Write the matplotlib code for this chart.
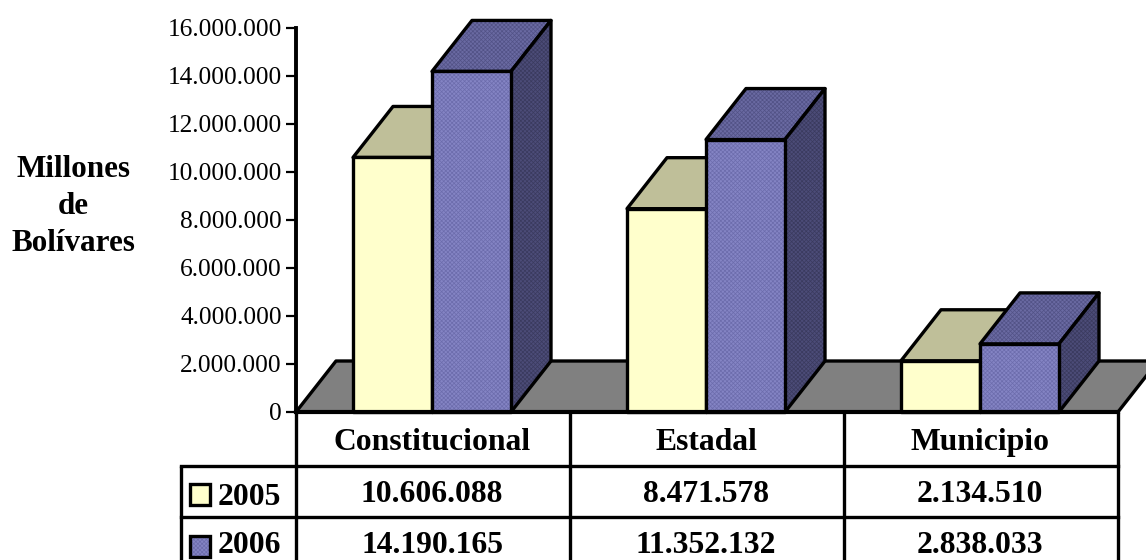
#!/usr/bin/env python3
"""3D looking bar chart with data table, Millones de Bolivares 2005/2006."""

import matplotlib
matplotlib.use('Agg')
import matplotlib.pyplot as plt
from matplotlib.patches import Polygon, Rectangle

categories = ['Constitucional', 'Estadal', 'Municipio']
years = ['2005', '2006']
values_2005 = [10606088, 8471578, 2134510]
values_2006 = [14190165, 11352132, 2838033]
labels_2005 = ['10.606.088', '8.471.578', '2.134.510']
labels_2006 = ['14.190.165', '11.352.132', '2.838.033']
y_ticks = [0, 2000000, 4000000, 6000000, 8000000, 10000000, 12000000, 14000000, 16000000]
y_tick_labels = ['0', '2.000.000', '4.000.000', '6.000.000', '8.000.000',
                 '10.000.000', '12.000.000', '14.000.000', '16.000.000']
ylabel_lines = ['Millones', 'de', 'Bolívares']

W, H = 1146, 560
LW = 2.4
BOLD_SIZE = 22.8

# colours: front, top, side
YELLOW = ('#ffffcc', '#bfbf99', '#80806a')
BLUE = ('#8484c4', '#6a6aa2', '#4c4c78')
# dither colour on the blue faces
BLUE_DITHER = ('#6c6cac', '#525286', '#3a3a5e')
FLOOR = '#808080'

# depth of the fake 3D in axis units
DX = 40 / 274
DY = 51 / 384 * 16000000
BAR_W = 79 / 274
GAP = 57 / 274

plt.rcParams['font.family'] = ['Liberation Serif', 'DejaVu Serif']
plt.rcParams['hatch.linewidth'] = 0.5

fig = plt.figure(figsize=(W / 100, H / 100), dpi=100)

# chart axes, pixel box of the plot area
ax = fig.add_axes([296 / W, 1 - 412 / H, 822 / W, 384 / H])
ax.set_xlim(0, 3)
ax.set_ylim(0, 16000000)
ax.patch.set_visible(False)
for name in ['top', 'right', 'bottom']:
    ax.spines[name].set_visible(False)
ax.spines['left'].set_linewidth(LW + 0.4)
ax.spines['left'].set_zorder(20)
ax.set_xticks([])
ax.set_yticks(y_ticks)
ax.set_yticklabels(y_tick_labels, fontsize=18.3)
ax.tick_params(axis='y', length=7.2, width=1.6, pad=2.9)


def add_poly(points, color, dither=None):
    if dither:
        ax.add_patch(Polygon(points, closed=True, facecolor=color, edgecolor=dither,
                             linewidth=0, hatch='xxxxxxxx', clip_on=False))
        color = 'none'
    ax.add_patch(Polygon(points, closed=True, facecolor=color, edgecolor='black',
                         linewidth=LW, joinstyle='round', clip_on=False))


def draw_bar(x, value, colors, dither=(None, None, None)):
    add_poly([(x, value), (x + DX, value + DY), (x + BAR_W + DX, value + DY),
              (x + BAR_W, value)], colors[1], dither[1])
    add_poly([(x + BAR_W, 0), (x + BAR_W + DX, DY), (x + BAR_W + DX, value + DY),
              (x + BAR_W, value)], colors[2], dither[2])
    add_poly([(x, 0), (x + BAR_W, 0), (x + BAR_W, value), (x, value)], colors[0], dither[0])


# floor
add_poly([(0, 0), (DX, DY), (3 + DX, DY), (3, 0)], FLOOR)

for i in range(len(categories)):
    draw_bar(i + GAP, values_2005[i], YELLOW)
    draw_bar(i + GAP + BAR_W, values_2006[i], BLUE, BLUE_DITHER)

# overlay in pixels for the table and the axis title
ov = fig.add_axes([0, 0, 1, 1])
ov.set_xlim(0, W)
ov.set_ylim(H, 0)
ov.axis('off')
ov.patch.set_visible(False)

col_x = [296, 570, 844, 1118]
row_y = [412, 466, 517, 562]
ov.plot([296, 1118], [412, 412], color='black', lw=3)
for y in row_y[1:3]:
    ov.plot([181, 1118], [y, y], color='black', lw=LW)
for x in col_x:
    ov.plot([x, x], [412, 562], color='black', lw=LW, solid_capstyle='butt')
ov.plot([181, 181], [466, 562], color='black', lw=LW, solid_capstyle='butt')

for i in range(len(categories)):
    cx = (col_x[i] + col_x[i + 1]) / 2 - 1
    ov.text(cx, 450, categories[i], fontsize=BOLD_SIZE, fontweight='bold', ha='center', va='baseline')
    ov.text(cx, 502, labels_2005[i], fontsize=BOLD_SIZE, fontweight='bold', ha='center', va='baseline')
    ov.text(cx, 553, labels_2006[i], fontsize=BOLD_SIZE, fontweight='bold', ha='center', va='baseline')

for y, base, year, colors, dither in zip([484, 536], [505, 553], years, [YELLOW, BLUE],
                                         [None, BLUE_DITHER[0]]):
    if dither:
        ov.add_patch(Rectangle((190, y), 20, 21, facecolor=colors[0], edgecolor=dither,
                               linewidth=0, hatch='xxxxxxxx'))
    ov.add_patch(Rectangle((190, y), 20, 21, facecolor='none' if dither else colors[0],
                           edgecolor='black', linewidth=LW))
    ov.text(218, base, year, fontsize=BOLD_SIZE, fontweight='bold', ha='left', va='baseline')

for y, line in zip([177, 214, 251], ylabel_lines):
    ov.text(73.5, y, line, fontsize=22.4, fontweight='bold', ha='center', va='baseline')

fig.savefig('out.png', dpi=100)
